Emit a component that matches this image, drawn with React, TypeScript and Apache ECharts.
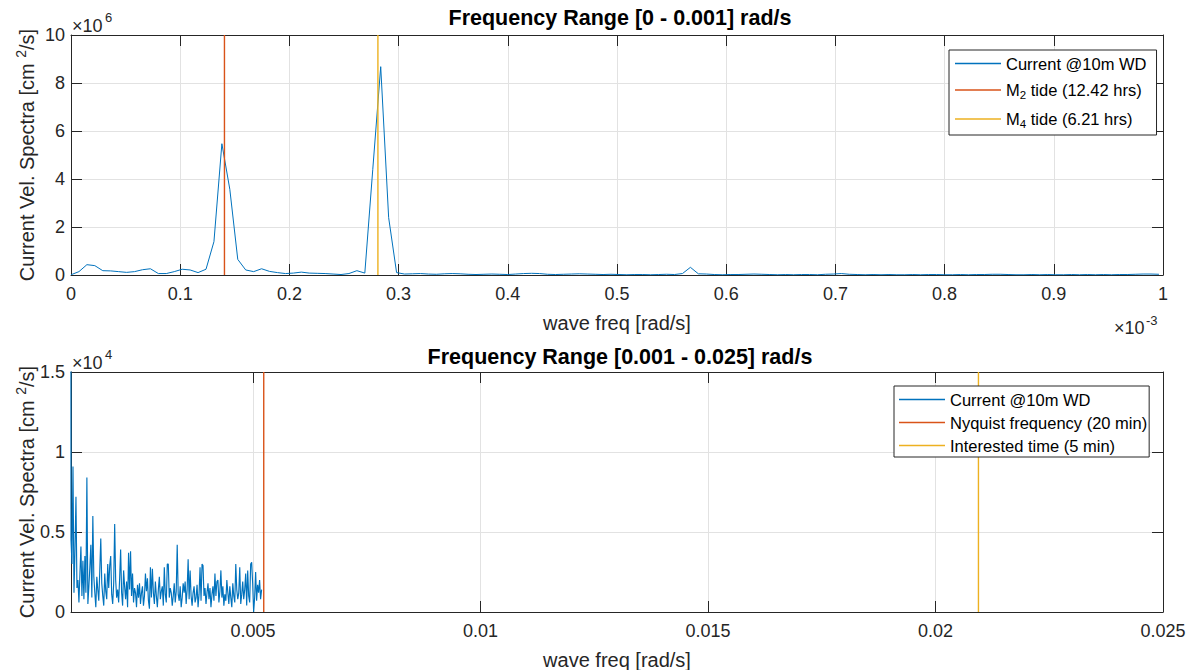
import React, { useEffect, useRef } from 'react';
import * as echarts from 'echarts';

// frequency resolution of the spectrum, in units of 1e-3 rad/s
const DF = 0.0072722;

// top panel: spectrum values (x 1e6 cm^2/s), one per frequency bin i*DF (x 1e-3 rad/s)
const topValues = [
  0.01, 0.14, 0.43, 0.39, 0.18, 0.17, 0.14, 0.11, 0.14, 0.22,
  0.26, 0.06, 0.06, 0.14, 0.24, 0.21, 0.10, 0.24, 1.39, 5.47,
  3.57, 0.65, 0.21, 0.14, 0.26, 0.15, 0.10, 0.06, 0.08, 0.12,
  0.08, 0.07, 0.06, 0.04, 0.02, 0.06, 0.18, 0.08, 4.40, 8.68,
  2.39, 0.10, 0.04, 0.05, 0.06, 0.04, 0.03, 0.05, 0.06, 0.05,
  0.03, 0.02, 0.03, 0.04, 0.03, 0.02, 0.04, 0.06, 0.07, 0.06,
  0.03, 0.02, 0.03, 0.04, 0.05, 0.04, 0.03, 0.02, 0.03, 0.02,
  0.01, 0.02, 0.02, 0.01, 0.02, 0.03, 0.02, 0.06, 0.32, 0.05,
  0.04, 0.02, 0.01, 0.02, 0.02, 0.03, 0.04, 0.03, 0.02, 0.01,
  0.02, 0.01, 0.02, 0.02, 0.01, 0.03, 0.04, 0.06, 0.03, 0.02,
  0.01, 0.02, 0.01, 0.02, 0.01, 0.01, 0.02, 0.01, 0.02, 0.02,
  0.01, 0.01, 0.02, 0.01, 0.02, 0.02, 0.03, 0.03, 0.02, 0.01,
  0.01, 0.02, 0.01, 0.02, 0.01, 0.01, 0.02, 0.01, 0.02, 0.01,
  0.02, 0.01, 0.02, 0.02, 0.03, 0.04, 0.04, 0.03,
];

// bottom panel: spectrum values (x 1e4 cm^2/s) from 0.001 rad/s, every third bin
const bottomValues = [
  0.45, 0.30, 0.91, 0.12, 0.38, 0.72, 0.15, 0.20, 0.06, 0.24,
  0.41, 0.10, 0.32, 0.08, 0.35, 0.12, 0.84, 0.05, 0.16, 0.28,
  0.42, 0.09, 0.60, 0.22, 0.12, 0.03, 0.22, 0.14, 0.07, 0.26,
  0.46, 0.18, 0.10, 0.04, 0.24, 0.13, 0.08, 0.30, 0.15, 0.29,
  0.35, 0.11, 0.05, 0.18, 0.55, 0.20, 0.09, 0.14, 0.06, 0.21,
  0.39, 0.12, 0.04, 0.26, 0.16, 0.08, 0.19, 0.03, 0.37, 0.14,
  0.38, 0.10, 0.24, 0.06, 0.15, 0.12, 0.03, 0.17, 0.09, 0.18,
  0.05, 0.12, 0.16, 0.04, 0.10, 0.24, 0.13, 0.21, 0.07, 0.02,
  0.28, 0.09, 0.27, 0.12, 0.05, 0.19, 0.10, 0.03, 0.14, 0.22,
  0.08, 0.13, 0.16, 0.04, 0.28, 0.11, 0.06, 0.30, 0.30, 0.09,
  0.15, 0.12, 0.04, 0.10, 0.18, 0.06, 0.13, 0.42, 0.11, 0.07,
  0.16, 0.03, 0.09, 0.18, 0.12, 0.19, 0.05, 0.14, 0.33, 0.08,
  0.26, 0.10, 0.04, 0.12, 0.16, 0.06, 0.09, 0.17, 0.03, 0.11,
  0.28, 0.07, 0.30, 0.29, 0.10, 0.15, 0.05, 0.12, 0.18, 0.08,
  0.15, 0.03, 0.11, 0.16, 0.07, 0.24, 0.10, 0.19, 0.20, 0.06,
  0.13, 0.26, 0.09, 0.16, 0.04, 0.11, 0.07, 0.20, 0.12, 0.05,
  0.16, 0.09, 0.03, 0.18, 0.10, 0.06, 0.30, 0.14, 0.08, 0.12,
  0.28, 0.05, 0.11, 0.19, 0.08, 0.14, 0.24, 0.04, 0.26, 0.10,
  0.06, 0.30, 0.31, 0.18, 0.00, 0.09, 0.25, 0.07, 0.17, 0.12,
  0.20, 0.08, 0.14,
];

// reference periods
const M2_HOURS = 12.42;
const M4_HOURS = 6.21;
const NYQUIST_MIN = 20;
const INTERESTED_MIN = 5;

const NAME_CURRENT = 'Current @10m WD';
const NAME_M2 = 'M2 tide (12.42 hrs)';
const NAME_M4 = 'M4 tide (6.21 hrs)';
const NAME_NYQ = 'Nyquist frequency (20 min)';
const NAME_INT = 'Interested time (5 min)';

const FONT = '"Liberation Sans", Arial, Helvetica, sans-serif';
const AXIS_COLOR = '#262626';
const GRID_COLOR = '#e2e2e2';
const BLUE = '#0072BD';
const RED = '#D95319';
const YELLOW = '#EDB120';

const GRID_LEFT = 71;
const GRID_W = 1092;
const GRID_H = 240;
const TOP1 = 35;
const TOP2 = 372;

function axisCommon(gridIndex: number, position: string, main: boolean) {
  return {
    gridIndex,
    type: 'value',
    position,
    axisLine: { show: true, onZero: false, lineStyle: { color: AXIS_COLOR, width: 1 } },
    axisTick: { show: true, inside: true, length: 11, lineStyle: { color: AXIS_COLOR, width: 1 } },
    axisLabel: main
      ? { show: true, color: AXIS_COLOR, fontSize: 18, fontFamily: FONT }
      : { show: false },
    splitLine: main ? { show: true, lineStyle: { color: GRID_COLOR, width: 1 } } : { show: false },
  };
}

export default function App() {
  const ref = useRef<HTMLDivElement>(null);

  useEffect(() => {
    if (!ref.current) return;
    const chart = echarts.init(ref.current, null, { renderer: 'svg' });

    const topData = topValues.map((v, i) => [i * DF, v]);
    const bottomStep = (3 * DF) / 1000;
    const lastTop = topValues.length - 1;
    const bottomData = [
      [(lastTop * DF) / 1000, topValues[lastTop] * 100],
      ...bottomValues.map((v, k) => [0.001 + k * bottomStep, v]),
    ];

    const m2 = ((2 * Math.PI) / (M2_HOURS * 3600)) * 1000;
    const m4 = ((2 * Math.PI) / (M4_HOURS * 3600)) * 1000;
    const nyq = (2 * Math.PI) / (NYQUIST_MIN * 60);
    const intr = (2 * Math.PI) / (INTERESTED_MIN * 60);

    const legendFormatter = (name: string) => {
      const m = name.match(/^M(\d)(.*)$/);
      return m ? `{t|M}{s|${m[1]}}{t|${m[2]}}` : `{t|${name}}`;
    };

    const legendCommon = {
      orient: 'vertical',
      icon: 'rect',
      itemWidth: 46,
      itemHeight: 1.4,
      backgroundColor: '#ffffff',
      borderColor: AXIS_COLOR,
      borderWidth: 1,
      borderRadius: 0,
      formatter: legendFormatter,
    };

    const yName = 'Current Vel. Spectra [cm {sup|2}/s]';
    const yNameStyle = {
      fontSize: 20,
      fontFamily: FONT,
      color: AXIS_COLOR,
      lineHeight: 26,
      rich: {
        sup: { fontSize: 14, fontFamily: FONT, color: AXIS_COLOR, lineHeight: 14, verticalAlign: 'top' },
      },
    };
    const xNameStyle = { fontSize: 20, fontFamily: FONT, color: AXIS_COLOR };
    const titleStyle = { fontSize: 21.5, fontWeight: 'bold', fontFamily: FONT, color: '#000' };

    const option: any = {
      animation: false,
      backgroundColor: '#ffffff',
      title: [
        {
          text: 'Frequency Range [0 - 0.001] rad/s',
          left: GRID_LEFT + GRID_W / 2 + 3,
          textAlign: 'center',
          top: 7,
          padding: 0,
          textStyle: titleStyle,
        },
        {
          text: 'Frequency Range [0.001 - 0.025] rad/s',
          left: GRID_LEFT + GRID_W / 2 + 3,
          textAlign: 'center',
          top: 346,
          padding: 0,
          textStyle: titleStyle,
        },
      ],
      grid: [
        { left: GRID_LEFT, top: TOP1, width: GRID_W, height: GRID_H, outerBoundsMode: 'none', containLabel: false },
        { left: GRID_LEFT, top: TOP2, width: GRID_W, height: GRID_H, outerBoundsMode: 'none', containLabel: false },
      ],
      xAxis: [
        {
          ...axisCommon(0, 'bottom', true),
          min: 0,
          max: 1,
          interval: 0.1,
          name: 'wave freq [rad/s]',
          nameLocation: 'middle',
          nameGap: 38,
          nameMoveOverlap: false,
          nameTextStyle: xNameStyle,
          axisLabel: { show: true, color: AXIS_COLOR, fontSize: 18, fontFamily: FONT, margin: 10 },
        },
        { ...axisCommon(0, 'top', false), min: 0, max: 1, interval: 0.1 },
        {
          ...axisCommon(1, 'bottom', true),
          min: 0.001,
          max: 0.025,
          splitNumber: 5,
          name: 'wave freq [rad/s]',
          nameLocation: 'middle',
          nameGap: 38,
          nameMoveOverlap: false,
          nameTextStyle: xNameStyle,
          axisLabel: { show: true, color: AXIS_COLOR, fontSize: 18, fontFamily: FONT, margin: 10, showMinLabel: false },
        },
        { ...axisCommon(1, 'top', false), min: 0.001, max: 0.025, splitNumber: 5 },
      ],
      yAxis: [
        {
          ...axisCommon(0, 'left', true),
          min: 0,
          max: 10,
          interval: 2,
          name: yName,
          nameLocation: 'middle',
          nameGap: 31,
          nameMoveOverlap: false,
          nameTextStyle: yNameStyle,
          axisLabel: { show: true, color: AXIS_COLOR, fontSize: 18, fontFamily: FONT, margin: 6 },
        },
        { ...axisCommon(0, 'right', false), min: 0, max: 10, interval: 2 },
        {
          ...axisCommon(1, 'left', true),
          min: 0,
          max: 1.5,
          interval: 0.5,
          name: yName,
          nameLocation: 'middle',
          nameGap: 31,
          nameMoveOverlap: false,
          nameTextStyle: yNameStyle,
          axisLabel: { show: true, color: AXIS_COLOR, fontSize: 18, fontFamily: FONT, margin: 6 },
        },
        { ...axisCommon(1, 'right', false), min: 0, max: 1.5, interval: 0.5 },
      ],
      legend: [
        {
          ...legendCommon,
          data: [NAME_CURRENT, NAME_M2, NAME_M4],
          left: 949,
          top: 50,
          itemGap: 9.5,
          padding: [5, 10, 5, 6],
          textStyle: {
            fontSize: 16.5,
            fontFamily: FONT,
            color: '#000',
            rich: {
              t: { fontSize: 16.5, fontFamily: FONT, color: '#000', lineHeight: 22 },
              s: { fontSize: 11.5, fontFamily: FONT, color: '#000', lineHeight: 6, verticalAlign: 'bottom' },
            },
          },
        },
        {
          ...legendCommon,
          data: [NAME_CURRENT, NAME_NYQ, NAME_INT],
          left: 894,
          top: 386,
          itemGap: 6,
          padding: [5, 2, 3, 5],
          textStyle: {
            fontSize: 16.5,
            fontFamily: FONT,
            color: '#000',
            rich: { t: { fontSize: 16.5, fontFamily: FONT, color: '#000', lineHeight: 18.5 } },
          },
        },
      ],
      graphic: [
        { type: 'text', x: 72, y: 26, style: { text: '×10', fontSize: 18, fontFamily: FONT, fill: AXIS_COLOR, verticalAlign: 'middle', align: 'left' } },
        { type: 'text', x: 105, y: 17, style: { text: '6', fontSize: 13, fontFamily: FONT, fill: AXIS_COLOR, verticalAlign: 'middle', align: 'left' } },
        { type: 'text', x: 72, y: 363, style: { text: '×10', fontSize: 18, fontFamily: FONT, fill: AXIS_COLOR, verticalAlign: 'middle', align: 'left' } },
        { type: 'text', x: 105, y: 354, style: { text: '4', fontSize: 13, fontFamily: FONT, fill: AXIS_COLOR, verticalAlign: 'middle', align: 'left' } },
        { type: 'text', x: 1114, y: 328, style: { text: '×10', fontSize: 18, fontFamily: FONT, fill: AXIS_COLOR, verticalAlign: 'middle', align: 'left' } },
        { type: 'text', x: 1146, y: 320, style: { text: '-3', fontSize: 13, fontFamily: FONT, fill: AXIS_COLOR, verticalAlign: 'middle', align: 'left' } },
      ],
      series: [
        {
          name: NAME_CURRENT,
          type: 'line',
          xAxisIndex: 0,
          yAxisIndex: 0,
          data: topData,
          symbol: 'none',
          lineStyle: { color: BLUE, width: 1 },
          itemStyle: { color: BLUE },
        },
        {
          name: NAME_M2,
          type: 'line',
          xAxisIndex: 0,
          yAxisIndex: 0,
          data: [[m2, 0], [m2, 10]],
          symbol: 'none',
          lineStyle: { color: RED, width: 1.4 },
          itemStyle: { color: RED },
        },
        {
          name: NAME_M4,
          type: 'line',
          xAxisIndex: 0,
          yAxisIndex: 0,
          data: [[m4, 0], [m4, 10]],
          symbol: 'none',
          lineStyle: { color: YELLOW, width: 1.4 },
          itemStyle: { color: YELLOW },
        },
        {
          name: NAME_CURRENT,
          type: 'line',
          xAxisIndex: 2,
          yAxisIndex: 2,
          data: bottomData,
          symbol: 'none',
          clip: true,
          lineStyle: { color: BLUE, width: 1.15 },
          itemStyle: { color: BLUE },
        },
        {
          name: NAME_NYQ,
          type: 'line',
          xAxisIndex: 2,
          yAxisIndex: 2,
          data: [[nyq, 0], [nyq, 1.5]],
          symbol: 'none',
          lineStyle: { color: RED, width: 1.4 },
          itemStyle: { color: RED },
        },
        {
          name: NAME_INT,
          type: 'line',
          xAxisIndex: 2,
          yAxisIndex: 2,
          data: [[intr, 0], [intr, 1.5]],
          symbol: 'none',
          lineStyle: { color: YELLOW, width: 1.4 },
          itemStyle: { color: YELLOW },
        },
      ],
    };

    chart.setOption(option);
    return () => chart.dispose();
  }, []);

  return (
    <div
      ref={ref}
      style={{ position: 'absolute', left: 0, top: 0, width: 1195, height: 670, background: '#ffffff' }}
    />
  );
}
